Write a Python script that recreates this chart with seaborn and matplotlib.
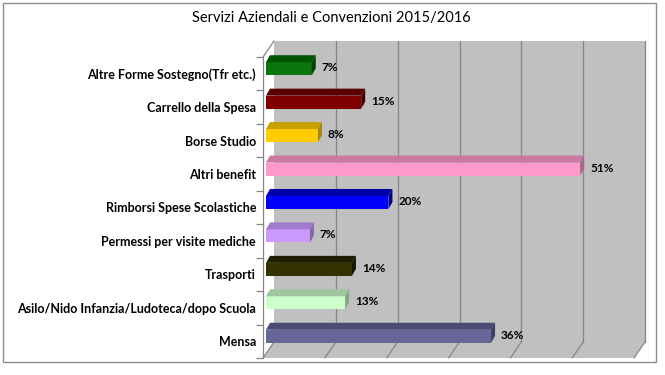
import matplotlib
matplotlib.use("Agg")
import matplotlib.pyplot as plt
import matplotlib.transforms as mtransforms
from matplotlib.patches import Polygon, Rectangle
from matplotlib.lines import Line2D
import seaborn as sns
import pandas as pd

# dati del grafico
categories = ["Altre Forme Sostegno(Tfr etc.)", "Carrello della Spesa", "Borse Studio",
              "Altri benefit", "Rimborsi Spese Scolastiche", "Permessi per visite mediche",
              "Trasporti", "Asilo/Nido Infanzia/Ludoteca/dopo Scuola", "Mensa"]
values = [7.4, 15.4, 8.4, 50.8, 19.8, 7.1, 13.9, 12.8, 36.4]
front_colors = ["#0b760b", "#800000", "#ffcc00", "#ff99cc", "#0000ff",
                "#cc99ff", "#333300", "#ccffcc", "#666699"]
top_colors = ["#005400", "#5c0000", "#c9a100", "#c97aa2", "#0000a8",
              "#a07ccc", "#1f1f00", "#9fc79f", "#4b4b75"]
side_colors = ["#004400", "#4a0000", "#a88600", "#a86688", "#00008a",
               "#8566aa", "#161600", "#84a884", "#3d3d60"]
title = "Servizi Aziendali e Convenzioni 2015/2016"
x_max = 60
grid_step = 10

# stile
sns.set_style("white")
plt.rcParams['font.family'] = ['Lato', 'DejaVu Sans']

W, H = 665, 375
fig = plt.figure(figsize=(W / 100, H / 100), dpi=100)
ax = fig.add_axes([263 / W, (H - 358) / H, 371 / W, 301 / H])

df = pd.DataFrame({"categoria": categories, "valore": values})
sns.barplot(data=df, x="valore", y="categoria", hue="categoria", palette=front_colors,
            legend=False, orient="h", width=0.39, saturation=1, linewidth=0, ax=ax)

n = len(categories)
ax.set_xlim(0, x_max)
ax.set_ylim(n - 0.5, -0.5)
ax.patch.set_visible(False)
for s in ["top", "right", "bottom"]:
    ax.spines[s].set_visible(False)
ax.spines["left"].set_color("#868686")
ax.spines["left"].set_linewidth(0.9)
ax.set_xlabel("")
ax.set_ylabel("")
ax.set_xticks([])

ax.set_yticks(range(n), categories, fontweight="bold", fontsize=9)
ax.set_yticks([k - 0.5 for k in range(n + 1)], minor=True)
ax.tick_params(axis="y", which="major", length=0, pad=5, labelcolor="black")
ax.tick_params(axis="y", which="minor", length=5, width=0.9, color="#868686", left=True)

# offset prospettici in pixel
FX, FY = 3, 5     # faccia frontale delle barre
BX, BY = 4, 7     # profondita' delle barre
WX, WY = 11, 16   # parete di fondo
ident = mtransforms.IdentityTransform()


def px(x, y, dx=0, dy=0):
    X, Y = ax.transData.transform((x, y))
    return (X + dx, Y + dy)


# parete di fondo e pavimento
wall = Polygon([px(0, n - 0.5, WX, WY), px(x_max, n - 0.5, WX, WY),
                px(x_max, -0.5, WX, WY), px(0, -0.5, WX, WY)],
               closed=True, facecolor="#c0c0c0", edgecolor="none",
               transform=ident, clip_on=False, zorder=0)
floor = Polygon([px(0, n - 0.5), px(x_max, n - 0.5),
                 px(x_max, n - 0.5, WX, WY), px(0, n - 0.5, WX, WY)],
                closed=True, facecolor="#c0c0c0", edgecolor="none",
                transform=ident, clip_on=False, zorder=0)
ax.add_patch(wall)
ax.add_patch(floor)

grid_kw = dict(color="#868686", lw=0.9, transform=ident, clip_on=False, zorder=0.5)
for xv in range(grid_step, x_max + 1, grid_step):
    a = px(xv, n - 0.5, WX, WY)
    b = px(xv, -0.5, WX, WY)
    c = px(xv, n - 0.5)
    ax.add_line(Line2D([a[0], b[0]], [a[1], b[1]], **grid_kw))
    ax.add_line(Line2D([a[0], c[0]], [a[1], c[1]], **grid_kw))
for yv in [-0.5, n - 0.5]:
    a = px(0, yv)
    b = px(0, yv, WX, WY)
    ax.add_line(Line2D([a[0], b[0]], [a[1], b[1]], **grid_kw))

# barre 3D
shift = mtransforms.Affine2D().translate(FX, FY)
for p in list(ax.patches):
    if p in (wall, floor):
        continue
    w = p.get_width()
    y0 = p.get_y()
    h = p.get_height()
    idx = int(round(y0 + h / 2))
    p.set_transform(ax.transData + shift)
    p.set_zorder(2)
    top = Polygon([px(0, y0, FX, FY), px(w, y0, FX, FY),
                   px(w, y0, FX + BX, FY + BY), px(0, y0, FX + BX, FY + BY)],
                  closed=True, facecolor=top_colors[idx], edgecolor="none",
                  transform=ident, clip_on=False, zorder=2)
    side = Polygon([px(w, y0, FX, FY), px(w, y0 + h, FX, FY),
                    px(w, y0 + h, FX + BX, FY + BY), px(w, y0, FX + BX, FY + BY)],
                   closed=True, facecolor=side_colors[idx], edgecolor="none",
                   transform=ident, clip_on=False, zorder=2)
    ax.add_patch(top)
    ax.add_patch(side)

# etichette valori
for i, v in enumerate(values):
    ax.annotate(f"{v:.0f}%", xy=(v, i), xytext=(13 * 0.72, 6 * 0.72),
                textcoords="offset points", ha="left", va="center",
                fontsize=8.5, fontweight="bold", color="black", zorder=3)

fig.text(331 / W, 1 - 18 / H, title, ha="center", va="center", fontsize=10.5, color="black")
fig.add_artist(Rectangle((3 / W, (H - 362) / H), 653 / W, 359 / H, transform=fig.transFigure,
                         fill=False, edgecolor="#8c8c8c", lw=1))

fig.savefig("out.png", dpi=100)
plt.close(fig)
